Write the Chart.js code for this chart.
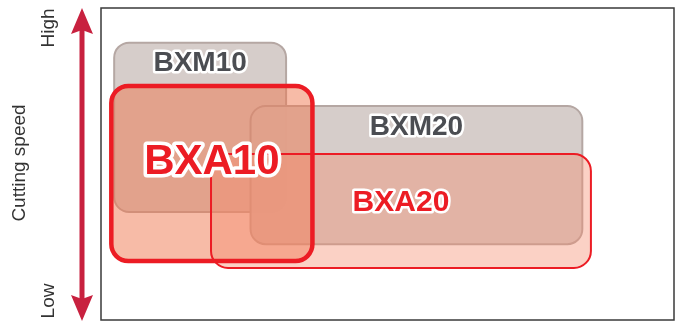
<!DOCTYPE html>
<html>
<head>
<meta charset="utf-8">
<script src="https://cdn.jsdelivr.net/npm/chart.js@4/dist/chart.umd.min.js"></script>
<style>
  html, body { margin: 0; padding: 0; background: #fff; }
  #wrap { width: 675px; height: 322px; }
</style>
</head>
<body>
<div id="wrap"><canvas id="myChart"></canvas></div>
<script>
// grade areas: x = application range, y = cutting speed (0 = low, 100 = high)
const grades = ["BXM10", "BXM20", "BXA10", "BXA20"];
const xFrom = [2.3, 26.1, 1.8, 19.2];
const xTo = [32.3, 84.0, 36.9, 85.5];
const yFrom = [34.6, 24.3, 18.9, 16.7];
const yTo = [88.9, 68.6, 75.0, 53.2];
const labelY = [82.4, 61.9, 50.6, 37.5];
const axisTicks = ["Low", "High"];
const axisTitle = "Cutting speed";

const styles = {
    BXM10: { fill: "rgba(212, 202, 199, 0.95)", stroke: "#b5a7a3", width: 2, radius: 15, text: "#4b4d52", font: 28 },
    BXM20: { fill: "rgba(212, 202, 199, 0.95)", stroke: "#b5a7a3", width: 2, radius: 15, text: "#4b4d52", font: 28 },
    BXA10: { fill: "rgba(240, 120, 80, 0.5)", stroke: "#ec1c24", width: 4.5, radius: 17, text: "#ec1c24", font: 42 },
    BXA20: { fill: "rgba(245, 140, 110, 0.4)", stroke: "#ec1c24", width: 2, radius: 17, text: "#ec1c24", font: 30 },
};

// one dataset per grade, the two corners of its area
const datasets = grades.map((g, i) => ({
    label: g,
    data: [{ x: xFrom[i], y: yFrom[i] }, { x: xTo[i], y: yTo[i] }],
    pointRadius: 0,
    showLine: false,
}));

function rectOf(chart, i) {
    const xs = chart.scales.x, ys = chart.scales.y;
    const ds = chart.data.datasets[i].data;
    const x0 = xs.getPixelForValue(ds[0].x), x1 = xs.getPixelForValue(ds[1].x);
    const y0 = ys.getPixelForValue(ds[1].y), y1 = ys.getPixelForValue(ds[0].y);
    return { x: x0, y: y0, w: x1 - x0, h: y1 - y0 };
}

const areaPlugin = {
    id: "gradeAreas",
    afterDatasetsDraw(chart) {
        const ctx = chart.ctx;
        const area = chart.chartArea;
        ctx.save();

        // frame
        ctx.strokeStyle = "#3a3a3a";
        ctx.lineWidth = 1.5;
        ctx.strokeRect(area.left, area.top, area.right - area.left, area.bottom - area.top);

        // grey grades, fill and border
        [0, 1].forEach(i => {
            const s = styles[grades[i]], r = rectOf(chart, i);
            ctx.beginPath();
            ctx.roundRect(r.x, r.y, r.w, r.h, s.radius);
            ctx.fillStyle = s.fill;
            ctx.fill();
            ctx.lineWidth = s.width;
            ctx.strokeStyle = s.stroke;
            ctx.stroke();
        });
        // red grades: fills, then borders
        [2, 3].forEach(i => {
            const s = styles[grades[i]], r = rectOf(chart, i);
            ctx.beginPath();
            ctx.roundRect(r.x, r.y, r.w, r.h, s.radius);
            ctx.fillStyle = s.fill;
            ctx.fill();
        });
        [3, 2].forEach(i => {
            const s = styles[grades[i]], r = rectOf(chart, i);
            ctx.beginPath();
            ctx.roundRect(r.x, r.y, r.w, r.h, s.radius);
            ctx.lineWidth = s.width;
            ctx.strokeStyle = s.stroke;
            ctx.stroke();
        });

        // labels with white outline
        ctx.textAlign = "center";
        ctx.textBaseline = "middle";
        ctx.lineJoin = "round";
        grades.forEach((g, i) => {
            const s = styles[g], r = rectOf(chart, i);
            const cx = r.x + r.w / 2;
            const cy = chart.scales.y.getPixelForValue(labelY[i]);
            ctx.font = "bold " + s.font + "px 'Liberation Sans', Arial, sans-serif";
            ctx.strokeStyle = "#fff";
            ctx.lineWidth = s.font > 35 ? 7 : 5;
            ctx.strokeText(g, cx, cy);
            ctx.fillStyle = s.text;
            ctx.fillText(g, cx, cy);
        });

        // cutting speed arrow on the left
        const ax = 82, top = area.top, bot = area.bottom + 1;
        ctx.fillStyle = "#c8213f";
        ctx.fillRect(ax - 2.5, top + 20, 5, bot - top - 40);
        ctx.beginPath();
        ctx.moveTo(ax, top);
        ctx.lineTo(ax + 11, top + 26);
        ctx.lineTo(ax, top + 22);
        ctx.lineTo(ax - 11, top + 26);
        ctx.closePath();
        ctx.fill();
        ctx.beginPath();
        ctx.moveTo(ax, bot);
        ctx.lineTo(ax + 11, bot - 26);
        ctx.lineTo(ax, bot - 22);
        ctx.lineTo(ax - 11, bot - 26);
        ctx.closePath();
        ctx.fill();

        // axis texts, rotated
        ctx.fillStyle = "#333";
        ctx.font = "19px 'Liberation Sans', Arial, sans-serif";
        const rotText = (t, x, y) => {
            ctx.save();
            ctx.translate(x, y);
            ctx.rotate(-Math.PI / 2);
            ctx.fillText(t, 0, 0);
            ctx.restore();
        };
        rotText(axisTicks[1], 49, 28);
        rotText(axisTicks[0], 49, 301);
        rotText(axisTitle, 20, 163);
        ctx.restore();
    },
};

new Chart(document.getElementById("myChart").getContext("2d"), {
    type: "scatter",
    data: { datasets },
    options: {
        responsive: true,
        maintainAspectRatio: false,
        animation: false,
        layout: { padding: { left: 101, top: 8, right: 1, bottom: 2 } },
        scales: {
            x: { type: "linear", min: 0, max: 100, display: false },
            y: { type: "linear", min: 0, max: 100, display: false },
        },
        plugins: {
            legend: { display: false },
            tooltip: { enabled: false },
        },
    },
    plugins: [areaPlugin],
});
</script>
</body>
</html>
